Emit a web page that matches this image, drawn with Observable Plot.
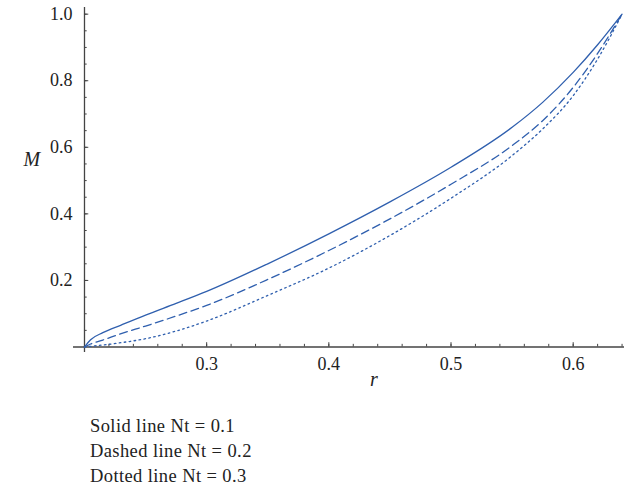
<!DOCTYPE html>
<html>
<head>
<meta charset="utf-8">
<script src="https://cdn.jsdelivr.net/npm/d3@7"></script>
<script src="https://cdn.jsdelivr.net/npm/@observablehq/plot@0.6"></script>
<style>
  html, body { margin: 0; padding: 0; background: #fff; }
  #legend { font-family: "Liberation Serif", serif; font-size: 18.5px; letter-spacing: 0.4px; line-height: 25px; color: #222; padding-left: 90px; padding-top: 19px; }
</style>
</head>
<body>
<div id="chart"></div>
<div id="legend"></div>
<script>
// Data
const r = [0.2, 0.205, 0.215, 0.23, 0.25, 0.275, 0.3, 0.35, 0.4, 0.45, 0.5, 0.55, 0.575, 0.6, 0.62, 0.64];
const solidNt01  = [0, 0.022, 0.043, 0.066, 0.096, 0.131, 0.167, 0.25, 0.34, 0.436, 0.54, 0.66, 0.735, 0.825, 0.908, 1.0];
const dashedNt02 = [0, 0.009, 0.021, 0.04, 0.063, 0.093, 0.125, 0.203, 0.29, 0.385, 0.489, 0.605, 0.68, 0.78, 0.882, 1.0];
const dottedNt03 = [0, 0.002, 0.006, 0.013, 0.025, 0.048, 0.078, 0.155, 0.237, 0.335, 0.447, 0.575, 0.655, 0.755, 0.865, 1.0];

const xMajorTicks = [0.3, 0.4, 0.5, 0.6];
const xMinorTicks = d3.range(11, 33).map(i => i * 0.02);
const yMajorTicks = [0.2, 0.4, 0.6, 0.8, 1.0];
const yMinorTicks = d3.range(1, 21).map(i => i * 0.05);
const legendLines = ["Solid line Nt = 0.1", "Dashed line Nt = 0.2", "Dotted line Nt = 0.3"];

const series = [
  {name: "solid", values: solidNt01, dash: null},
  {name: "dashed", values: dashedNt02, dash: "8,4.5"},
  {name: "dotted", values: dottedNt03, dash: "1.6,3.4"}
];
const rows = series.flatMap(s => r.map((x, i) => ({r: x, M: s.values[i], s: s.name})));

const blue = "#2f5fae";
const axisColor = "#444";
const font = "Liberation Serif, serif";

const chart = Plot.plot({
  width: 624,
  height: 395,
  marginLeft: 73,
  marginRight: 0,
  marginTop: 7,
  marginBottom: 43,
  style: {fontFamily: font, fontSize: "18px", color: "#222", background: "white"},
  x: {domain: [0.191, 0.642]},
  y: {domain: [-0.0165, 1.02]},
  marks: [
    Plot.ruleY([0], {stroke: axisColor, strokeWidth: 1.3}),
    Plot.ruleX([0.2], {stroke: axisColor, strokeWidth: 1.3}),
    Plot.ruleX(xMinorTicks, {y1: 0, y2: 0.008, stroke: axisColor, strokeWidth: 1}),
    Plot.ruleX(xMajorTicks, {y1: 0, y2: 0.013, stroke: axisColor, strokeWidth: 1}),
    Plot.ruleY(yMinorTicks, {x1: 0.2, x2: 0.2022, stroke: axisColor, strokeWidth: 1}),
    Plot.ruleY(yMajorTicks, {x1: 0.2, x2: 0.2035, stroke: axisColor, strokeWidth: 1}),
    Plot.axisX({ticks: xMajorTicks, tickSize: 0, tickPadding: 5, tickFormat: d3.format(".1f"), label: null, fontSize: 18}),
    Plot.axisY({ticks: yMajorTicks, tickSize: 0, tickPadding: 1, tickFormat: d3.format(".1f"), label: null, fontSize: 18}),
    Plot.text(["M"], {frameAnchor: "left", dx: -50, dy: -20, fontStyle: "italic", fontSize: 20, fill: "#222"}),
    Plot.text(["r"], {frameAnchor: "bottom", dx: 25, dy: 33, fontStyle: "italic", fontSize: 20, fill: "#222"}),
    ...series.map(s => Plot.line(rows.filter(d => d.s === s.name), {
      x: "r", y: "M", stroke: blue, strokeWidth: 1.3, curve: "monotone-x",
      strokeDasharray: s.dash
    }))
  ]
});
document.getElementById("chart").appendChild(chart);
document.getElementById("legend").innerHTML = legendLines.map(t => `<div>${t}</div>`).join("");
</script>
</body>
</html>
